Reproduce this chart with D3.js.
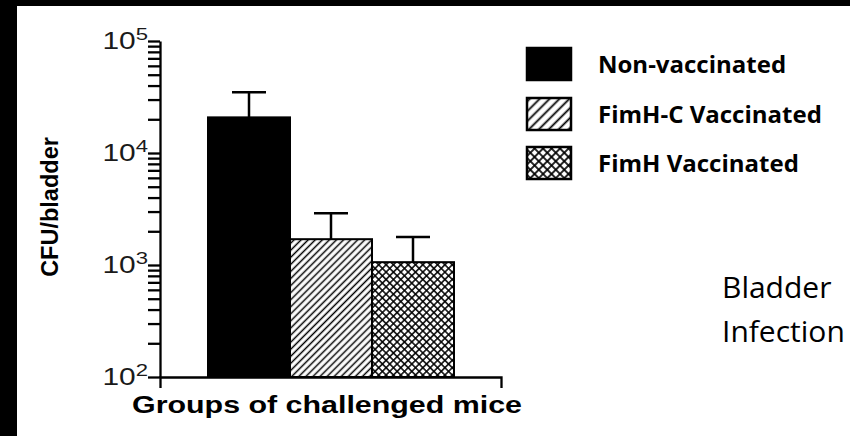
<!DOCTYPE html>
<html>
<head>
<meta charset="utf-8">
<script src="https://cdn.jsdelivr.net/npm/d3@7"></script>
<style>
  body { margin: 0; background: #fff; }
  svg { display: block; }
</style>
</head>
<body>
<svg id="chart" width="850" height="436"></svg>
<script>
'use strict';

// data
var groups = ['Non-vaccinated', 'FimH-C Vaccinated', 'FimH Vaccinated'];
var cfuMean = [20800, 1700, 1060];
var cfuUpper = [34800, 2900, 1780];
var decades = [2, 3, 4, 5];
var fills = ['solid', 'hatch', 'cross'];

var svg = d3.select('#chart');

// white sheet, black frame strip on the left and top only
svg.append('rect').attr('width', 850).attr('height', 436).attr('fill', '#fff');
svg.append('rect').attr('width', 17).attr('height', 436).attr('fill', '#000');
svg.append('rect').attr('width', 850).attr('height', 6).attr('fill', '#000');

var defs = svg.append('defs');

function addHatch(id, gap, sw) {
  var p = defs.append('pattern')
    .attr('id', id)
    .attr('patternUnits', 'userSpaceOnUse')
    .attr('width', gap).attr('height', gap)
    .attr('patternTransform', 'rotate(45)');
  p.append('rect').attr('width', gap).attr('height', gap).attr('fill', '#fff');
  p.append('line').attr('x1', gap / 2).attr('x2', gap / 2).attr('y1', 0).attr('y2', gap)
    .attr('stroke', '#000').attr('stroke-width', sw);
}
function addCross(id, gap, sw) {
  var p = defs.append('pattern')
    .attr('id', id)
    .attr('patternUnits', 'userSpaceOnUse')
    .attr('width', gap).attr('height', gap)
    .attr('patternTransform', 'rotate(45)');
  p.append('rect').attr('width', gap).attr('height', gap).attr('fill', '#fff');
  p.append('line').attr('x1', gap / 2).attr('x2', gap / 2).attr('y1', 0).attr('y2', gap)
    .attr('stroke', '#000').attr('stroke-width', sw);
  p.append('line').attr('y1', gap / 2).attr('y2', gap / 2).attr('x1', 0).attr('x2', gap)
    .attr('stroke', '#000').attr('stroke-width', sw);
}
addHatch('hatch', 5, 1.5);
addCross('cross', 5.2, 1.5);
addHatch('hatchLeg', 7, 1.8);
addCross('crossLeg', 6, 1.7);

function fillOf(kind, legend) {
  if (kind === 'solid') return '#000';
  return 'url(#' + kind + (legend ? 'Leg' : '') + ')';
}

var y = d3.scaleLog().domain([1e2, 1e5]).range([377, 41]);
var x = d3.scaleBand().domain(groups).range([208, 454]).paddingInner(0);
var xAxisScale = d3.scaleBand().domain(groups).range([160, 501]);

// minor + major log ticks
var tickVals = [];
decades.forEach(function(d, i){
  tickVals.push(Math.pow(10, d));
  if (i < decades.length - 1) {
    for (var k = 2; k < 10; k++) tickVals.push(k * Math.pow(10, d));
  }
});

// bars
var bars = svg.append('g');
bars.selectAll('rect')
  .data(groups)
  .enter().append('rect')
  .attr('x', function(d){ return x(d); })
  .attr('width', x.bandwidth())
  .attr('y', function(d, i){ return y(cfuMean[i]); })
  .attr('height', function(d, i){ return y(1e2) - y(cfuMean[i]); })
  .attr('fill', function(d, i){ return fillOf(fills[i], false); })
  .attr('stroke', '#000')
  .attr('stroke-width', 2);

// error bars (upper only)
var err = svg.append('g').attr('stroke', '#000').attr('stroke-width', 2.5);
groups.forEach(function(g, i){
  var cx = x(g) + x.bandwidth() / 2;
  err.append('line').attr('x1', cx).attr('x2', cx)
    .attr('y1', y(cfuMean[i])).attr('y2', y(cfuUpper[i]));
  err.append('line').attr('x1', cx - 17).attr('x2', cx + 17)
    .attr('y1', y(cfuUpper[i])).attr('y2', y(cfuUpper[i]));
});

// y axis
var yAxis = d3.axisLeft(y).tickValues(tickVals).tickSize(12).tickSizeOuter(0).tickFormat('');
var gy = svg.append('g').attr('transform', 'translate(160,0)').call(yAxis);
gy.selectAll('path, line').attr('stroke', '#000').attr('stroke-width', 2.3);

// x axis: plain baseline with end ticks hanging down
var xAxis = d3.axisBottom(xAxisScale).tickValues([]).tickSizeOuter(11);
var gx = svg.append('g').attr('transform', 'translate(0,377)').call(xAxis);
gx.select('.domain').attr('stroke', '#000').attr('stroke-width', 2.3).attr('fill', 'none');

// decade labels 10^n (the scan is stretched sideways)
var lab = svg.append('g')
  .attr('font-family', '"Liberation Sans", Arial, sans-serif')
  .attr('fill', '#1a1a1a');
decades.forEach(function(d){
  var t = lab.append('text')
    .attr('transform', 'translate(148,' + (y(Math.pow(10, d)) + 8) + ') scale(1.3,1)')
    .attr('text-anchor', 'end')
    .attr('font-size', 23);
  t.append('tspan').text('10');
  t.append('tspan').attr('font-size', 17).attr('dy', -9).text(d);
});

// axis titles
svg.append('text')
  .attr('transform', 'translate(58,207) rotate(-90)')
  .attr('text-anchor', 'middle')
  .attr('font-family', '"Liberation Sans", Arial, sans-serif')
  .attr('font-weight', 'bold')
  .attr('font-size', 23.5)
  .text('CFU/bladder');

svg.append('text')
  .attr('x', 132).attr('y', 413)
  .attr('font-family', '"Liberation Sans", Arial, sans-serif')
  .attr('font-weight', 'bold')
  .attr('font-size', 23)
  .attr('textLength', 390)
  .attr('lengthAdjust', 'spacingAndGlyphs')
  .text('Groups of challenged mice');

// legend
var legTop = [48, 98, 147];
var leg = svg.append('g');
groups.forEach(function(g, i){
  leg.append('rect')
    .attr('x', 527).attr('y', legTop[i])
    .attr('width', 44).attr('height', 32)
    .attr('fill', fillOf(fills[i], true))
    .attr('stroke', '#000').attr('stroke-width', 2.5);
  leg.append('text')
    .attr('x', 598).attr('y', legTop[i] + 25)
    .attr('font-family', '"Open Sans", sans-serif')
    .attr('font-weight', 'bold')
    .attr('font-size', 24)
    .attr('fill', '#000')
    .text(g);
});

// panel caption
var cap = svg.append('text')
  .attr('font-family', '"Open Sans", sans-serif')
  .attr('font-size', 30)
  .attr('fill', '#000');
cap.append('tspan').attr('x', 722).attr('y', 298).text('Bladder');
cap.append('tspan').attr('x', 722).attr('y', 342).text('Infection');
</script>
</body>
</html>
